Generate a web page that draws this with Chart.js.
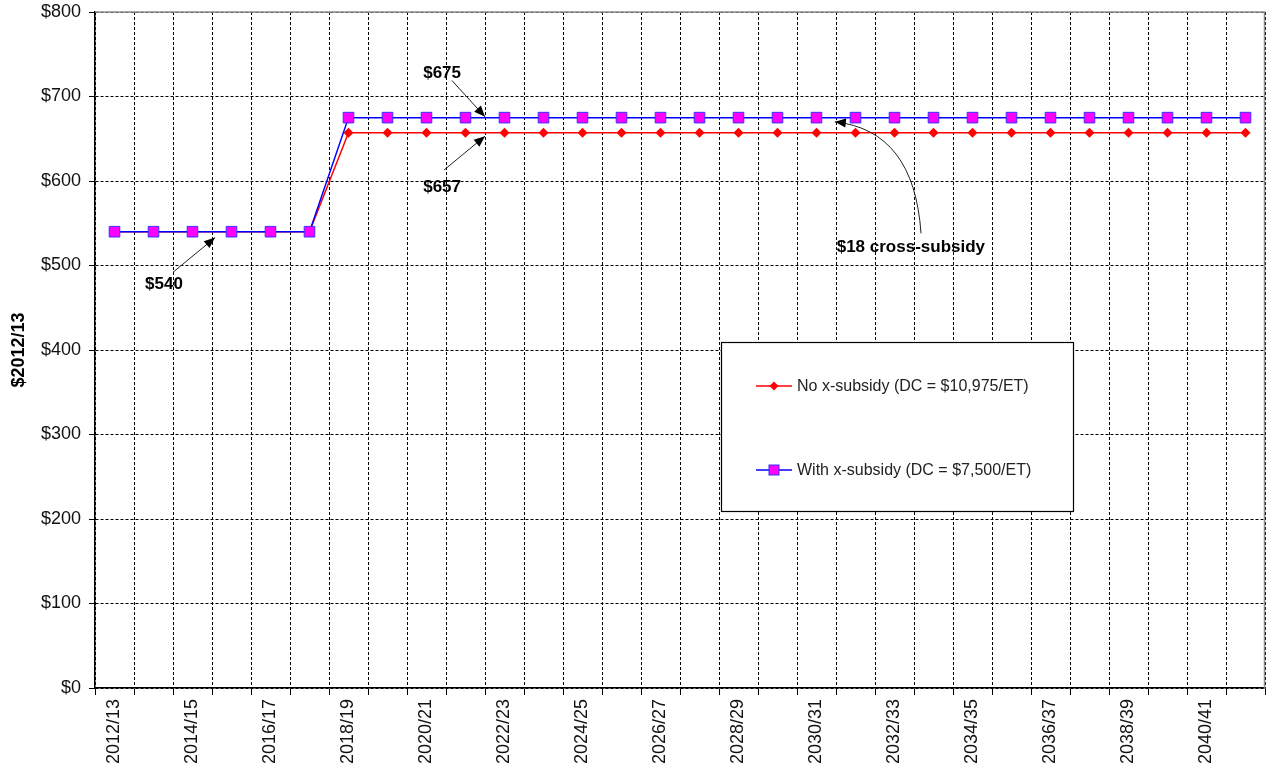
<!DOCTYPE html>
<html>
<head>
<meta charset="utf-8">
<script src="https://cdn.jsdelivr.net/npm/chart.js@4.4.1/dist/chart.umd.min.js"></script>
<style>
  html, body { margin: 0; padding: 0; background: #fff; overflow: hidden; }
  canvas { display: block; }
</style>
</head>
<body>
<canvas id="chart" width="1266" height="773"></canvas>
<script>
const years = [
  "2012/13", "2013/14", "2014/15", "2015/16", "2016/17", "2017/18", "2018/19", "2019/20",
  "2020/21", "2021/22", "2022/23", "2023/24", "2024/25", "2025/26", "2026/27", "2027/28",
  "2028/29", "2029/30", "2030/31", "2031/32", "2032/33", "2033/34", "2034/35", "2035/36",
  "2036/37", "2037/38", "2038/39", "2039/40", "2040/41", "2041/42"
];
const noSubsidy = [
  540, 540, 540, 540, 540, 540, 657, 657, 657, 657, 657, 657, 657, 657, 657,
  657, 657, 657, 657, 657, 657, 657, 657, 657, 657, 657, 657, 657, 657, 657
];
const withSubsidy = [
  540, 540, 540, 540, 540, 540, 675, 675, 675, 675, 675, 675, 675, 675, 675,
  675, 675, 675, 675, 675, 675, 675, 675, 675, 675, 675, 675, 675, 675, 675
];
const seriesNames = ["No x-subsidy (DC = $10,975/ET)", "With x-subsidy (DC = $7,500/ET)"];

// callouts: text spot and arrow ends, in (category index, value)
const callouts = [
  { text: "$540", at: [1.27, 478], from: [1.5, 492], to: [2.58, 533] },
  { text: "$675", at: [8.4, 727], from: [8.65, 719], to: [9.5, 676] },
  { text: "$657", at: [8.4, 593], from: [8.45, 613], to: [9.5, 653] },
  { text: "$18 cross-subsidy", at: [20.42, 521], from: [20.68, 538], to: [18.47, 670], via: [20.5, 660] }
];

const FONT = "'Liberation Sans', Arial, sans-serif";

function arrowHead(ctx, x, y, ang) {
  const len = 11, half = 4.5;
  ctx.beginPath();
  ctx.moveTo(x, y);
  ctx.lineTo(x - len * Math.cos(ang) + half * Math.sin(ang), y - len * Math.sin(ang) - half * Math.cos(ang));
  ctx.lineTo(x - len * Math.cos(ang) - half * Math.sin(ang), y - len * Math.sin(ang) + half * Math.cos(ang));
  ctx.closePath();
  ctx.fill();
}

const frame = {
  id: "frame",
  beforeDatasetsDraw(chart) {
    const { ctx, chartArea: a } = chart;
    ctx.save();
    ctx.strokeStyle = "#8c8c8c";
    ctx.lineWidth = 1.5;
    ctx.beginPath();
    ctx.moveTo(a.left, a.top);
    ctx.lineTo(a.right - 0.5, a.top);
    ctx.lineTo(a.right - 0.5, a.bottom);
    ctx.stroke();
    ctx.restore();
  }
};

const notes = {
  id: "notes",
  afterDraw(chart) {
    const { ctx, scales: { x, y } } = chart;
    const px = p => [x.getPixelForValue(p[0]), y.getPixelForValue(p[1])];
    ctx.save();
    ctx.fillStyle = "#000";
    ctx.strokeStyle = "#222";
    ctx.lineWidth = 1;
    ctx.font = "bold 17px " + FONT;
    ctx.textAlign = "center";
    ctx.textBaseline = "middle";
    callouts.forEach(c => {
      const [tx, ty] = px(c.at);
      ctx.fillText(c.text, tx, ty);
      const [x1, y1] = px(c.from);
      const [x2, y2] = px(c.to);
      ctx.beginPath();
      ctx.moveTo(x1, y1);
      let ang;
      if (c.via) {
        const [cx, cy] = px(c.via);
        ctx.quadraticCurveTo(cx, cy, x2, y2);
        ang = Math.atan2(y2 - cy, x2 - cx);
      } else {
        ctx.lineTo(x2, y2);
        ang = Math.atan2(y2 - y1, x2 - x1);
      }
      ctx.stroke();
      arrowHead(ctx, x2, y2, ang);
    });
    ctx.restore();
  }
};

const legendBox = {
  id: "legendBox",
  afterDraw(chart) {
    const { ctx } = chart;
    const box = { left: 721, top: 342, right: 1073, bottom: 511 };
    const rows = [386, 470];
    ctx.save();
    ctx.fillStyle = "#fff";
    ctx.fillRect(box.left, box.top, box.right - box.left, box.bottom - box.top);
    ctx.strokeStyle = "#000";
    ctx.lineWidth = 1.2;
    ctx.strokeRect(box.left + 0.5, box.top + 0.5, box.right - box.left, box.bottom - box.top);
    chart.data.datasets.forEach((ds, i) => {
      const ry = rows[i];
      ctx.strokeStyle = ds.borderColor;
      ctx.lineWidth = ds.borderWidth;
      ctx.beginPath();
      ctx.moveTo(756, ry);
      ctx.lineTo(792, ry);
      ctx.stroke();
      ctx.fillStyle = ds.pointBackgroundColor;
      ctx.strokeStyle = ds.pointBorderColor;
      ctx.lineWidth = ds.pointBorderWidth;
      if (ds.pointStyle === "rect") {
        ctx.fillRect(769, ry - 5, 10, 10);
        ctx.strokeRect(769, ry - 5, 10, 10);
      } else {
        ctx.beginPath();
        ctx.moveTo(774, ry - 4.5);
        ctx.lineTo(778.5, ry);
        ctx.lineTo(774, ry + 4.5);
        ctx.lineTo(769.5, ry);
        ctx.closePath();
        ctx.fill();
      }
      ctx.fillStyle = "#222";
      ctx.font = "16px " + FONT;
      ctx.textAlign = "left";
      ctx.textBaseline = "middle";
      ctx.fillText(ds.label, 797, ry + 1);
    });
    ctx.restore();
  }
};

new Chart(document.getElementById("chart"), {
  type: "line",
  data: {
    labels: years,
    datasets: [
      {
        label: seriesNames[0],
        data: noSubsidy,
        borderColor: "#ff0000",
        borderWidth: 1.5,
        pointStyle: "rectRot",
        pointRadius: 5,
        pointBackgroundColor: "#ff0000",
        pointBorderColor: "#ff0000",
        pointBorderWidth: 0,
        order: 1
      },
      {
        label: seriesNames[1],
        data: withSubsidy,
        borderColor: "#0000ff",
        borderWidth: 1.5,
        pointStyle: "rect",
        pointRadius: 7.5,
        pointBackgroundColor: "#ff00ff",
        pointBorderColor: "#3333ff",
        pointBorderWidth: 1,
        order: 0
      }
    ]
  },
  options: {
    responsive: false,
    animation: false,
    layout: { autoPadding: false, padding: { top: 12, right: 1, left: 0, bottom: 0 } },
    plugins: {
      legend: { display: false },
      tooltip: { enabled: false }
    },
    scales: {
      x: {
        type: "category",
        offset: true,
        grid: { offset: true, color: "#000", lineWidth: 1, tickLength: 7, tickColor: "#000", tickWidth: 1 },
        border: { display: true, color: "#000", width: 1.5, dash: [3, 2] },
        ticks: {
          autoSkip: false, minRotation: 90, maxRotation: 90, padding: 4, color: "#111",
          font: { family: FONT, size: 18 },
          callback: (v, i) => (i % 2 === 0 ? years[i] : "")
        },
        afterFit: s => { s.height = 85; s.paddingLeft = 0; s.paddingRight = 0; }
      },
      y: {
        min: 0,
        max: 800,
        grid: { color: "#000", lineWidth: 1, tickLength: 6, tickColor: "#000", tickWidth: 1 },
        border: { display: true, color: "#000", width: 1.5, dash: [3, 2] },
        ticks: {
          stepSize: 100, padding: 8, color: "#111",
          font: { family: FONT, size: 18 },
          callback: v => "$" + v
        },
        title: {
          display: true, text: "$2012/13", color: "#000",
          font: { family: FONT, size: 18, weight: "bold" },
          padding: { top: 8, bottom: 0 }
        },
        afterFit: s => { s.width = 95; s.paddingTop = 0; s.paddingBottom = 0; }
      }
    }
  },
  plugins: [frame, notes, legendBox]
});
</script>
</body>
</html>
